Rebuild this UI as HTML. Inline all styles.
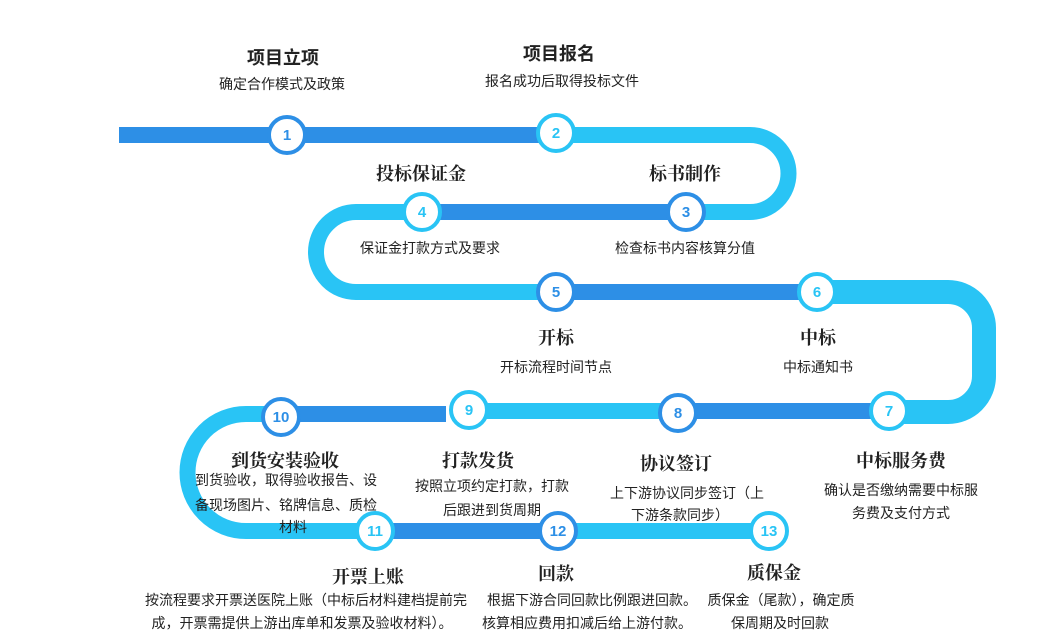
<!DOCTYPE html>
<html><head><meta charset="utf-8"><style>
html,body{margin:0;padding:0;background:#fff;}
svg{display:block;}
.t{font-family:"Liberation Serif","Noto Serif CJK SC",serif;font-weight:bold;font-size:18px;fill:#222;text-anchor:middle;}
.ts{font-family:"Liberation Sans","Noto Sans CJK SC",sans-serif;font-weight:bold;font-size:18px;fill:#222;text-anchor:middle;}
.d{font-family:"Liberation Sans","Noto Sans CJK SC",sans-serif;font-size:14px;fill:#222;text-anchor:middle;}
.n{font-family:"Liberation Sans","Noto Sans CJK SC",sans-serif;font-weight:bold;font-size:15px;text-anchor:middle;}
</style></head><body>
<svg width="1055" height="643" viewBox="0 0 1055 643" xmlns="http://www.w3.org/2000/svg">
<g fill="none" stroke-width="16">
<path d="M119 135 H556" stroke="#2d8fe6"/>
<path d="M556 135 H750 A38.5 38.5 0 0 1 750 212 H686" stroke="#29c4f5"/>
<path d="M686 212 H422" stroke="#2d8fe6"/>
<path d="M422 212 H356 A40 40 0 0 0 356 292 H556" stroke="#29c4f5"/>
<path d="M556 292 H817" stroke="#2d8fe6"/>
<path d="M817 292 H948 A36 36 0 0 1 984 328 V376 A36 36 0 0 1 948 412 H889" stroke="#29c4f5" stroke-width="24"/>
<path d="M889 411 H678" stroke="#2d8fe6"/>
<path d="M678 411 H469" stroke="#29c4f5"/>
<path d="M446 414 H281" stroke="#2d8fe6"/>
<path d="M281 414 H246 A58.5 58.5 0 0 0 246 531 H375" stroke="#29c4f5"/>
<path d="M375 531 H558" stroke="#2d8fe6"/>
<path d="M558 531 H769" stroke="#29c4f5"/>
</g>
<g stroke-width="4" fill="#fff">
<circle cx="287" cy="135" r="18" stroke="#2d8fe6"/>
<circle cx="556" cy="133" r="18" stroke="#29c4f5"/>
<circle cx="686" cy="212" r="18" stroke="#2d8fe6"/>
<circle cx="422" cy="212" r="18" stroke="#29c4f5"/>
<circle cx="556" cy="292" r="18" stroke="#2d8fe6"/>
<circle cx="817" cy="292" r="18" stroke="#29c4f5"/>
<circle cx="889" cy="411" r="18" stroke="#29c4f5"/>
<circle cx="678" cy="413" r="18" stroke="#2d8fe6"/>
<circle cx="469" cy="410" r="18" stroke="#29c4f5"/>
<circle cx="281" cy="417" r="18" stroke="#2d8fe6"/>
<circle cx="375" cy="531" r="18" stroke="#29c4f5"/>
<circle cx="558" cy="531" r="18" stroke="#2d8fe6"/>
<circle cx="769" cy="531" r="18" stroke="#29c4f5"/>
</g>
<g class="n">
<text x="287" y="140" fill="#2d8fe6">1</text>
<text x="556" y="138" fill="#29c4f5">2</text>
<text x="686" y="217" fill="#2d8fe6">3</text>
<text x="422" y="217" fill="#29c4f5">4</text>
<text x="556" y="297" fill="#2d8fe6">5</text>
<text x="817" y="297" fill="#29c4f5">6</text>
<text x="889" y="416" fill="#29c4f5">7</text>
<text x="678" y="418" fill="#2d8fe6">8</text>
<text x="469" y="415" fill="#29c4f5">9</text>
<text x="281" y="422" fill="#2d8fe6">10</text>
<text x="375" y="536" fill="#29c4f5">11</text>
<text x="558" y="536" fill="#2d8fe6">12</text>
<text x="769" y="536" fill="#29c4f5">13</text>
</g>
<g class="ts">
<text x="283" y="64">项目立项</text>
<text x="559" y="60">项目报名</text>
</g>
<g class="t">
<text x="421" y="180">投标保证金</text>
<text x="685" y="180">标书制作</text>
<text x="556" y="344">开标</text>
<text x="818" y="344">中标</text>
<text x="285" y="467">到货安装验收</text>
<text x="478" y="467">打款发货</text>
<text x="676" y="470">协议签订</text>
<text x="901" y="467">中标服务费</text>
<text x="368" y="583">开票上账</text>
<text x="556" y="580">回款</text>
<text x="774" y="579">质保金</text>
</g>
<g class="d">
<text x="282" y="89">确定合作模式及政策</text>
<text x="562" y="86">报名成功后取得投标文件</text>
<text x="430" y="253">保证金打款方式及要求</text>
<text x="685" y="253">检查标书内容核算分值</text>
<text x="556" y="372">开标流程时间节点</text>
<text x="818" y="372">中标通知书</text>
<text x="286" y="485">到货验收，取得验收报告、设</text>
<text x="286" y="510">备现场图片、铭牌信息、质检</text>
<text x="293" y="532">材料</text>
<text x="492" y="491">按照立项约定打款，打款</text>
<text x="492" y="515">后跟进到货周期</text>
<text x="687" y="498">上下游协议同步签订（上</text>
<text x="680" y="520">下游条款同步）</text>
<text x="901" y="495">确认是否缴纳需要中标服</text>
<text x="901" y="518">务费及支付方式</text>
<text x="306" y="605">按流程要求开票送医院上账（中标后材料建档提前完</text>
<text x="302" y="628">成，开票需提供上游出库单和发票及验收材料）。</text>
<text x="592" y="605">根据下游合同回款比例跟进回款。</text>
<text x="587" y="628">核算相应费用扣减后给上游付款。</text>
<text x="781" y="605">质保金（尾款），确定质</text>
<text x="780" y="628">保周期及时回款</text>
</g>
</svg>
</body></html>
